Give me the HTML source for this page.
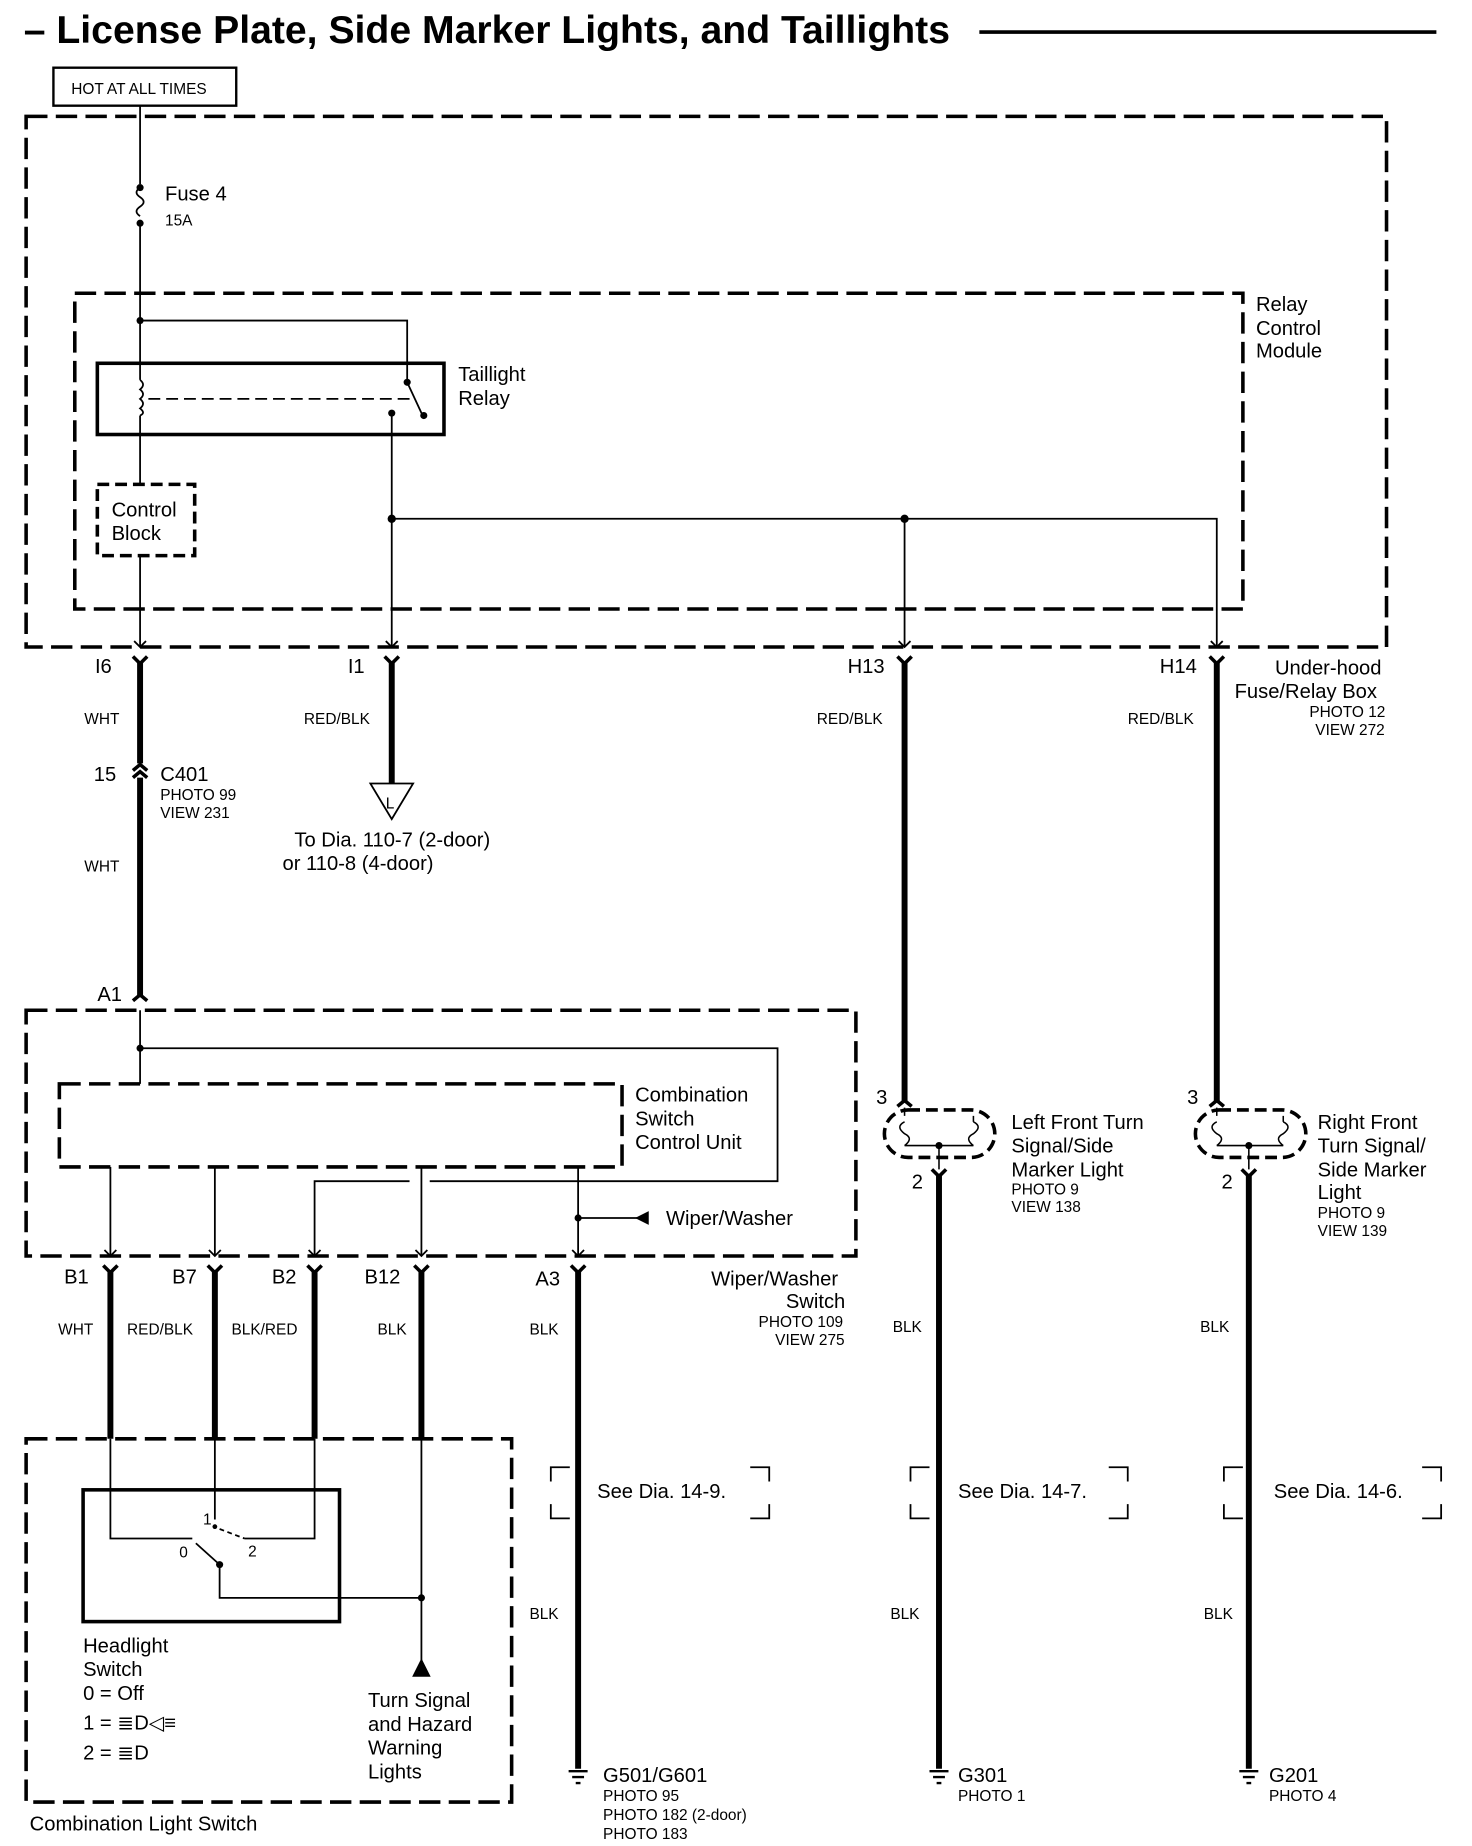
<!DOCTYPE html>
<html><head><style>
html,body{margin:0;padding:0;background:#fff}
svg{display:block}
text{font-family:"Liberation Sans",sans-serif;fill:#000}
.l{font-size:17px}
.s{font-size:13px}
</style></head><body>
<svg width="1472" height="1846" viewBox="0 0 1240 1555" xmlns="http://www.w3.org/2000/svg">
<g fill="none" stroke="#000">
<line x1="825" y1="27" x2="1210" y2="27" stroke-width="3"/>
<rect x="45" y="57" width="154" height="32" stroke-width="2"/>
<rect x="22" y="98" width="1146" height="447" stroke-width="3" stroke-dasharray="18,7"/>
<rect x="63" y="247" width="984" height="266" stroke-width="3" stroke-dasharray="18,7"/>
<line x1="118" y1="89" x2="118" y2="155" stroke-width="1.5"/>
<path d="M118 158 q-6 4 0 8 q6 4 0 8 q-6 4 0 8" stroke-width="1.5"/>
<line x1="118" y1="188" x2="118" y2="320" stroke-width="1.5"/>
<path d="M118 320 q5 4 0 8 q5 4 0 8 q5 4 0 8 q5 4 0 6" stroke-width="1.5"/>
<line x1="118" y1="350" x2="118" y2="408" stroke-width="1.5"/>
<polyline points="118,270 343,270 343,322" stroke-width="1.5"/>
<rect x="82" y="306" width="292" height="60" stroke-width="3"/>
<line x1="125" y1="336" x2="345" y2="336" stroke-width="1.5" stroke-dasharray="10,5"/>
<line x1="343" y1="322" x2="356" y2="350" stroke-width="1.5"/>
<rect x="82" y="408" width="82" height="60" stroke-width="3" stroke-dasharray="10,5"/>
<line x1="118" y1="468" x2="118" y2="545" stroke-width="1.5"/>
<polyline points="330,348 330,545" stroke-width="1.5"/>
<polyline points="330,437 1025,437 1025,545" stroke-width="1.5"/>
<line x1="762" y1="437" x2="762" y2="545" stroke-width="1.5"/>
<line x1="118" y1="558" x2="118" y2="643" stroke-width="5"/>
<line x1="118" y1="655" x2="118" y2="840" stroke-width="5"/>
<line x1="330" y1="558" x2="330" y2="660" stroke-width="5"/>
<polygon points="312,660 348,660 330,690" stroke-width="1.5"/>
<line x1="762" y1="558" x2="762" y2="928" stroke-width="5"/>
<line x1="1025" y1="558" x2="1025" y2="928" stroke-width="5"/>
<g stroke-width="3">
<path d="M112 553 l6 6 l6 -6"/><path d="M324 553 l6 6 l6 -6"/><path d="M756 553 l6 6 l6 -6"/><path d="M1019 553 l6 6 l6 -6"/>
<path d="M112 649 l6 -5 l6 5"/><path d="M112 655 l6 -5 l6 5"/>
<path d="M112 843 l6 -5 l6 5"/>
<path d="M87 1066 l6 6 l6 -6"/><path d="M175 1066 l6 6 l6 -6"/><path d="M259 1066 l6 6 l6 -6"/><path d="M349 1066 l6 6 l6 -6"/><path d="M481 1066 l6 6 l6 -6"/>
<path d="M756 932 l6 -5 l6 5"/><path d="M1019 932 l6 -5 l6 5"/>
<path d="M785 985 l6 6 l6 -6"/><path d="M1046 985 l6 6 l6 -6"/>
</g>
<g stroke-width="1.5">
<path d="M113 540 l5 5 l5 -5"/><path d="M325 540 l5 5 l5 -5"/><path d="M757 540 l5 5 l5 -5"/><path d="M1020 540 l5 5 l5 -5"/>
<path d="M88 1053 l5 5 l5 -5"/><path d="M176 1053 l5 5 l5 -5"/><path d="M260 1053 l5 5 l5 -5"/><path d="M350 1053 l5 5 l5 -5"/><path d="M482 1053 l5 5 l5 -5"/>
</g>
<rect x="22" y="851" width="699" height="207" stroke-width="3" stroke-dasharray="18,7"/>
<line x1="118" y1="851" x2="118" y2="913" stroke-width="1.5"/>
<polyline points="118,883 655,883 655,995 362,995" stroke-width="1.5"/>
<rect x="50" y="913" width="474" height="70" stroke-width="3" stroke-dasharray="18,7"/>
<g stroke-width="1.5">
<line x1="93" y1="983" x2="93" y2="1058"/>
<line x1="181" y1="983" x2="181" y2="1058"/>
<polyline points="265,1058 265,995 345,995"/>
<line x1="355" y1="983" x2="355" y2="1058"/>
<line x1="487" y1="983" x2="487" y2="1058"/>
<line x1="487" y1="1026" x2="540" y2="1026"/>
</g>
<polygon points="536,1026 546,1021 546,1031" fill="#000"/>
<g stroke-width="5">
<line x1="93" y1="1070" x2="93" y2="1212"/>
<line x1="181" y1="1070" x2="181" y2="1212"/>
<line x1="265" y1="1070" x2="265" y2="1212"/>
<line x1="355" y1="1070" x2="355" y2="1212"/>
<line x1="487" y1="1070" x2="487" y2="1490"/>
<line x1="791" y1="990" x2="791" y2="1490"/>
<line x1="1052" y1="990" x2="1052" y2="1490"/>
</g>
<rect x="22" y="1212" width="409" height="306" stroke-width="3" stroke-dasharray="18,7"/>
<rect x="70" y="1255" width="216" height="111" stroke-width="3"/>
<g stroke-width="1.5">
<polyline points="93,1212 93,1296 162,1296"/>
<polyline points="181,1212 181,1280"/>
<polyline points="265,1212 265,1296 206,1296"/>
<polyline points="355,1212 355,1400"/>
<polyline points="185,1318 185,1346 355,1346"/>
<line x1="185" y1="1318" x2="165" y2="1300"/>
<line x1="185" y1="1288" x2="206" y2="1296" stroke-dasharray="4,3"/>
</g>
<polygon points="348,1412 362,1412 355,1398" fill="#000"/>
<rect x="745" y="935" width="93" height="40" rx="20" stroke-width="3" stroke-dasharray="10,5"/>
<rect x="1007" y="935" width="93" height="40" rx="20" stroke-width="3" stroke-dasharray="10,5"/>
<g stroke-width="1.3">
<path d="M762 933 v7 M762 945 q-8 4 0 10 q8 4 0 10 M762 965 h58 M820 945 q8 4 0 10 q-8 4 0 10 M820 940 v5 M791 965 v20"/>
<path d="M1025 933 v7 M1025 945 q-8 4 0 10 q8 4 0 10 M1025 965 h56 M1081 945 q8 4 0 10 q-8 4 0 10 M1081 940 v5 M1052 965 v20"/>
</g>
<g stroke-width="1.5">
<path d="M464 1248 v-12 h16 M632 1236 h16 v12 M464 1267 v12 h16 M632 1279 h16 v-12" />
<path d="M767 1248 v-12 h16 M934 1236 h16 v12 M767 1267 v12 h16 M934 1279 h16 v-12" />
<path d="M1031 1248 v-12 h16 M1198 1236 h16 v12 M1031 1267 v12 h16 M1198 1279 h16 v-12" />
</g>
<g stroke-width="2">
<path d="M479 1492 h16 M482 1497 h10 M485 1502 h4"/>
<path d="M783 1492 h16 M786 1497 h10 M789 1502 h4"/>
<path d="M1044 1492 h16 M1047 1497 h10 M1050 1502 h4"/>
</g>
</g>
<g fill="#000">
<circle cx="118" cy="158" r="3"/><circle cx="118" cy="188" r="3"/>
<circle cx="118" cy="270" r="3"/><circle cx="343" cy="322" r="3"/><circle cx="357" cy="350" r="3"/><circle cx="330" cy="348" r="3"/>
<circle cx="330" cy="437" r="3.5"/><circle cx="762" cy="437" r="3.5"/>
<circle cx="118" cy="883" r="3"/><circle cx="487" cy="1026" r="3"/>
<circle cx="355" cy="1346" r="3"/><circle cx="185" cy="1318" r="3"/><circle cx="181" cy="1286" r="2"/>
<circle cx="791" cy="965" r="3"/><circle cx="1052" cy="965" r="3"/>
</g>
<text x="20" y="36" style="font-size:33px;font-weight:bold">– License Plate, Side Marker Lights, and Taillights</text>
<text x="60" y="79" class="s">HOT AT ALL TIMES</text>
<text x="139" y="169" class="l">Fuse 4</text>
<text x="139" y="190" class="s">15A</text>
<text x="1058" y="262" class="l">Relay</text><text x="1058" y="282" class="l">Control</text><text x="1058" y="301" class="l">Module</text>
<text x="386" y="321" class="l">Taillight</text><text x="386" y="341" class="l">Relay</text>
<text x="94" y="435" class="l">Control</text><text x="94" y="455" class="l">Block</text>
<text x="80" y="567" class="l">I6</text><text x="293" y="567" class="l">I1</text><text x="714" y="567" class="l">H13</text><text x="977" y="567" class="l">H14</text>
<text x="1074" y="568" class="l">Under-hood</text><text x="1040" y="588" class="l">Fuse/Relay Box</text>
<text x="1103" y="604" class="s">PHOTO 12</text><text x="1108" y="619" class="s">VIEW 272</text>
<text x="71" y="610" class="s">WHT</text><text x="256" y="610" class="s">RED/BLK</text><text x="688" y="610" class="s">RED/BLK</text><text x="950" y="610" class="s">RED/BLK</text>
<text x="79" y="658" class="l">15</text><text x="135" y="658" class="l">C401</text>
<text x="135" y="674" class="s">PHOTO 99</text><text x="135" y="689" class="s">VIEW 231</text>
<text x="325" y="681" class="s">L</text>
<text x="248" y="713" class="l">To Dia. 110-7 (2-door)</text><text x="238" y="733" class="l">or 110-8 (4-door)</text>
<text x="71" y="734" class="s">WHT</text>
<text x="82" y="843" class="l">A1</text>
<text x="535" y="928" class="l">Combination</text><text x="535" y="948" class="l">Switch</text><text x="535" y="968" class="l">Control Unit</text>
<text x="561" y="1032" class="l">Wiper/Washer</text>
<text x="738" y="930" class="l">3</text><text x="1000" y="930" class="l">3</text>
<text x="768" y="1001" class="l">2</text><text x="1029" y="1001" class="l">2</text>
<text x="852" y="951" class="l">Left Front Turn</text><text x="852" y="971" class="l">Signal/Side</text><text x="852" y="991" class="l">Marker Light</text>
<text x="852" y="1006" class="s">PHOTO 9</text><text x="852" y="1021" class="s">VIEW 138</text>
<text x="1110" y="951" class="l">Right Front</text><text x="1110" y="971" class="l">Turn Signal/</text><text x="1110" y="991" class="l">Side Marker</text><text x="1110" y="1010" class="l">Light</text>
<text x="1110" y="1026" class="s">PHOTO 9</text><text x="1110" y="1041" class="s">VIEW 139</text>
<text x="54" y="1081" class="l">B1</text><text x="145" y="1081" class="l">B7</text><text x="229" y="1081" class="l">B2</text><text x="307" y="1081" class="l">B12</text><text x="451" y="1083" class="l">A3</text>
<text x="599" y="1083" class="l">Wiper/Washer</text><text x="662" y="1102" class="l">Switch</text>
<text x="639" y="1118" class="s">PHOTO 109</text><text x="653" y="1133" class="s">VIEW 275</text>
<text x="49" y="1124" class="s">WHT</text><text x="107" y="1124" class="s">RED/BLK</text><text x="195" y="1124" class="s">BLK/RED</text><text x="318" y="1124" class="s">BLK</text><text x="446" y="1124" class="s">BLK</text>
<text x="752" y="1122" class="s">BLK</text><text x="1011" y="1122" class="s">BLK</text>
<text x="503" y="1262" class="l">See Dia. 14-9.</text><text x="807" y="1262" class="l">See Dia. 14-7.</text><text x="1073" y="1262" class="l">See Dia. 14-6.</text>
<text x="171" y="1284" class="s">1</text><text x="151" y="1312" class="s">0</text><text x="209" y="1311" class="s">2</text>
<text x="446" y="1364" class="s">BLK</text><text x="750" y="1364" class="s">BLK</text><text x="1014" y="1364" class="s">BLK</text>
<text x="70" y="1392" class="l">Headlight</text><text x="70" y="1412" class="l">Switch</text><text x="70" y="1432" class="l">0 = Off</text>
<text x="70" y="1457" class="l">1 = ≣D◁≡</text><text x="70" y="1482" class="l">2 = ≣D</text>
<text x="310" y="1438" class="l">Turn Signal</text><text x="310" y="1458" class="l">and Hazard</text><text x="310" y="1478" class="l">Warning</text><text x="310" y="1498" class="l">Lights</text>
<text x="25" y="1542" class="l">Combination Light Switch</text>
<text x="508" y="1501" class="l">G501/G601</text>
<text x="508" y="1517" class="s">PHOTO 95</text><text x="508" y="1533" class="s">PHOTO 182 (2-door)</text><text x="508" y="1549" class="s">PHOTO 183</text>
<text x="807" y="1501" class="l">G301</text><text x="807" y="1517" class="s">PHOTO 1</text>
<text x="1069" y="1501" class="l">G201</text><text x="1069" y="1517" class="s">PHOTO 4</text>
</svg>
</body></html>
